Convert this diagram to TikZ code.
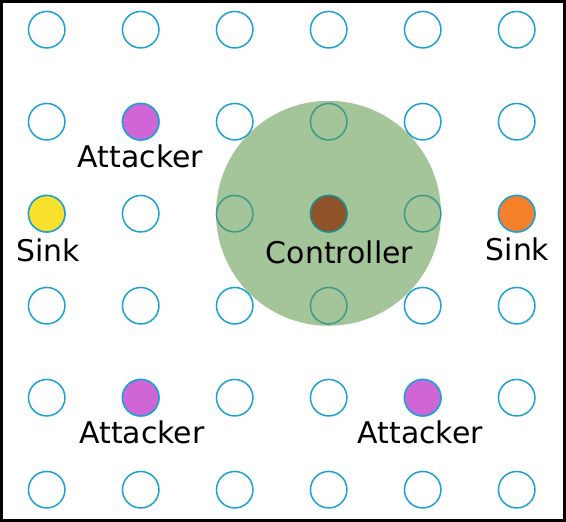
\documentclass[tikz,border=0pt]{standalone}
\usepackage{fontspec}
\setmainfont{DejaVu Sans}
\definecolor{nodeblue}{RGB}{27,161,216}
\definecolor{attackfill}{RGB}{208,102,214}
\definecolor{sinkyellow}{RGB}{249,224,42}
\definecolor{sinkorange}{RGB}{246,128,42}
\definecolor{ctrlbrown}{RGB}{143,82,41}
\definecolor{ctrlteal}{RGB}{30,140,135}
\definecolor{rangegreen}{RGB}{91,148,71}
\tikzset{
  sensor/.style={circle, draw=nodeblue, line width=1.5pt, minimum size=36.5pt, inner sep=0pt, fill=white},
  attacker/.style={sensor, fill=attackfill},
  sinkA/.style={sensor, fill=sinkyellow},
  sinkB/.style={sensor, fill=sinkorange},
  ctrl/.style={sensor, draw=ctrlteal, fill=ctrlbrown},
  lbl/.style={anchor=base, inner sep=0pt, font=\fontsize{29.9}{36}\selectfont}
}
\begin{document}
\begin{tikzpicture}[x=1pt, y=-1pt]
\useasboundingbox (0,0) rectangle (566,522);
\fill[white] (0,0) rectangle (566,522);
\draw[line width=3pt] (1.5,1.5) rectangle (564.5,520.5);
% grid
\foreach \c/\x in {1/46.7,2/140.7,3/234.7,4/328.7,5/422.7,6/516.7}{
  \foreach \r/\y in {1/29.7,2/121.7,3/213.7,4/305.7,5/397.7,6/489.7}{
    \node[sensor] (n\r\c) at (\x,\y) {};
  }
}
% special nodes
\node[attacker] (att1) at (n22) {};
\node[attacker] (att2) at (n52) {};
\node[attacker] (att3) at (n55) {};
\node[sinkA] (sink1) at (n31) {};
\node[sinkB] (sink2) at (n36) {};
% range
\fill[rangegreen, fill opacity=0.55] (328.5,213.3) circle (112.5);
\node[ctrl] (ctrl) at (n34) {};
% labels
\node[lbl] (latt1) at (140.5,167) {Attacker};
\node[lbl] (latt2) at (142,443.3) {Attacker};
\node[lbl] (latt3) at (420.3,443.3) {Attacker};
\node[lbl] (lsink1) at (48,261.7) {Sink};
\node[lbl] (lsink2) at (517.5,260) {Sink};
\node[lbl] (lctrl) at (339.5,263.3) {Controller};
\end{tikzpicture}
\end{document}
